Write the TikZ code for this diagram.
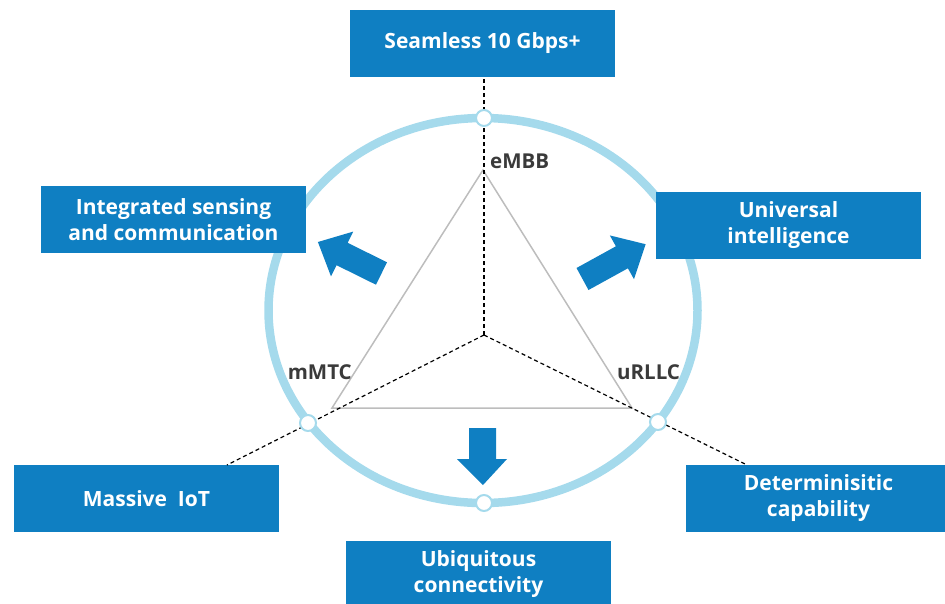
\documentclass[tikz,border=0pt]{standalone}
\usepackage{fontspec}
\setmainfont{Open Sans}
\definecolor{boxblue}{HTML}{0F7FC2}
\definecolor{ringblue}{HTML}{A5DAEC}
\definecolor{trigray}{HTML}{BDBDBD}
\definecolor{labelgray}{HTML}{3A3A3A}
\begin{document}
\begin{tikzpicture}[x=1pt,y=-1pt,
  bluebox/.style={fill=boxblue, text=white, minimum width=265pt, minimum height=67pt,
    inner sep=0pt, align=center, font=\fontsize{21}{26}\selectfont\bfseries},
  ringdot/.style={circle, draw=ringblue, fill=white, line width=2pt,
    minimum size=16pt, inner sep=0pt},
  cornerlabel/.style={font=\fontsize{20.5}{22}\selectfont\bfseries, text=labelgray, inner sep=0pt},
  dashline/.style={dash pattern=on 4pt off 3pt, line width=1.2pt, black},
  bigarrow/.style={fill=boxblue}]
\useasboundingbox (0,0) rectangle (945,603);
% ring
\draw[ringblue, line width=8.5pt] (483,310.5) ellipse [x radius=214.5pt, y radius=192.5pt];
% triangle
\coordinate (c) at (484,335);
\coordinate (tA) at (483,170);
\coordinate (tB) at (332,408);
\coordinate (tC) at (632,408);
\draw[trigray, line width=1.5pt, line join=miter] (tA) -- (tB) -- (tC) -- cycle;
% boxes
\node[bluebox] (gbps) at (482.5,43.5) {Seamless 10 Gbps+};
\node[bluebox] (isac) at (173.5,219.5) {Integrated sensing\\and communication};
\node[bluebox] (ui) at (788.5,225.5) {Universal\\intelligence};
\node[bluebox] (iot) at (146.5,498.5) {Massive\ \ IoT};
\node[bluebox] (det) at (818.5,498.5) {Determinisitic\\capability};
\node[bluebox] (ubi) at (478.5,574.5) {Ubiquitous\\connectivity};
% dashed spokes
\coordinate (iotend) at (227,465);
\coordinate (detend) at (747,465);
\draw[dashline] (c) -- (c |- gbps.south);
\draw[dashline] (c) -- (iotend);
\draw[dashline] (c) -- (detend);
% dots on ring
\node[ringdot] (d1) at (484,118) {};
\node[ringdot] (d2) at (484,503) {};
\node[ringdot] (d3) at (308,423) {};
\node[ringdot] (d4) at (658,422) {};
% block arrows
\fill[bigarrow] (469,428) -- (496,428) -- (496,459) -- (507,459) -- (483,485) -- (457,459) -- (469,459) -- cycle;
\fill[bigarrow] (387.05,262.3) -- (347.65,242.8) -- (353.2,231.6) -- (317.9,242.0) -- (331.0,276.4) -- (336.55,265.2) -- (375.95,284.7) -- cycle;
\fill[bigarrow] (588.5,290.0) -- (627.9,268.3) -- (634.0,279.2) -- (645.6,244.2) -- (609.8,235.4) -- (615.9,246.3) -- (576.5,268.0) -- cycle;
% labels
\node[cornerlabel, anchor=west] (embb) at (490,161) {eMBB};
\node[cornerlabel, anchor=east] (mmtc) at (352,372) {mMTC};
\node[cornerlabel, anchor=west] (urllc) at (617,372) {uRLLC};
\end{tikzpicture}
\end{document}
